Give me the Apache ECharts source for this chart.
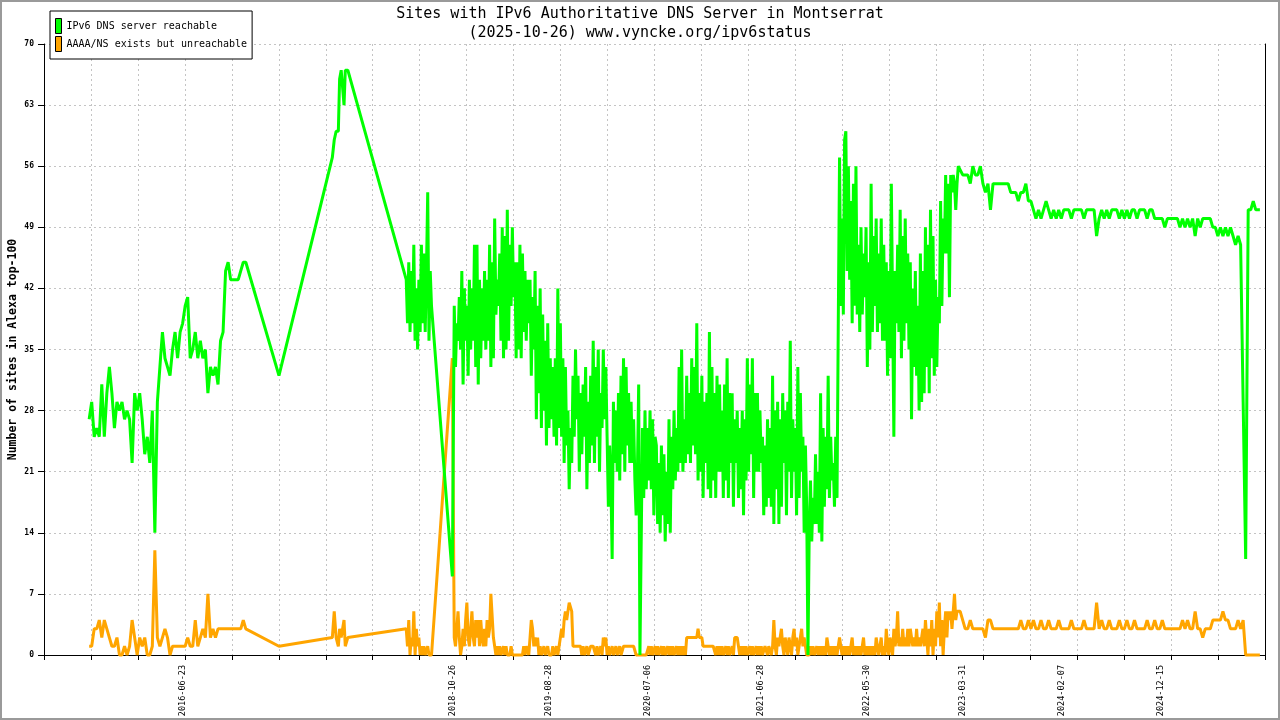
<!DOCTYPE html>
<html>
<head>
<meta charset="utf-8">
<script src="https://cdn.jsdelivr.net/npm/echarts@6/dist/echarts.min.js"></script>
<style>
html,body{margin:0;padding:0;background:#fff;}
#c{width:1280px;height:720px;}
#frame{position:absolute;left:0;top:0;width:1280px;height:720px;box-sizing:border-box;border:2px solid #9a9a9a;pointer-events:none;}
</style>
</head>
<body>
<div id="c"></div>
<div id="frame"></div>
<script>
// ---- texts ----
const titleLine1 = 'Sites with IPv6 Authoritative DNS Server in Montserrat';
const titleLine2 = '(2025-10-26) www.vyncke.org/ipv6status';
const yAxisTitle = 'Number of sites in Alexa top-100';
const seriesNames = ['IPv6 DNS server reachable', 'AAAA/NS exists but unreachable'];

// ---- x axis (time, in days) ----
const axisOrigin = '2015-04-12';     // left edge of the plot
const firstSample = '2015-09-02';    // date of dayOffsets[0]
const tickSpacingDays = 148.7;
const tickCount = 26;
const xLabelDates = ['2016-06-23','2018-10-26','2019-08-28','2020-07-06','2021-06-28',
                     '2022-05-30','2023-03-31','2024-02-07','2024-12-15'];

// ---- y axis ----
const yMin = 0, yMax = 70, yStep = 7;

// ---- data: days since firstSample ----
const dayOffsets = [
  0,8,16,24,32,40,48,56,
  64,72,80,88,96,104,112,120,
  128,136,144,152,160,168,176,184,
  192,200,208,216,224,232,240,248,
  256,264,272,280,288,296,304,312,
  320,328,336,344,352,360,368,376,
  384,392,400,408,416,424,432,440,
  448,456,464,472,480,488,496,
  601,770,776,782,789,793,798,807,811,819,
  1004,1008,1012,1016,1020,1024,1028,1032,1036,1040,
  1044,1048,1052,1056,1060,1064,1068,1072,1076,1080,1084,
  1150,
  1156,1160,1164,1168,1172,1176,1180,1184,1188,1192,
  1196,1200,1204,1208,1212,1216,1220,1224,1228,1232,
  1236,1240,1244,1248,1252,1256,1260,1264,1268,1272,
  1276,1280,1284,1288,1292,1296,1300,1304,1308,1312,
  1316,1320,1324,1328,1332,1336,1340,1344,1348,1352,
  1356,1360,1364,1368,1372,1376,1380,1384,1388,1392,
  1396,1400,1404,1408,1412,1416,1420,1424,1428,1432,
  1436,1440,1444,1448,1452,1456,1460,1464,1468,1472,
  1476,1480,1484,1488,1492,1496,1500,1504,1508,1512,
  1516,1520,1524,1528,1532,1536,1540,1544,1548,1552,
  1556,1560,1564,1568,1572,1576,1580,1584,1588,1592,
  1596,1600,1604,1608,1612,1616,1620,1624,1628,1632,
  1636,1640,1644,1648,1652,1656,1660,1664,1668,1672,
  1676,1680,1684,1688,1692,1696,1700,1704,1708,1712,
  1716,1720,1724,1728,1732,1736,1740,1744,1748,1752,
  1756,1760,1764,1768,1772,1776,1780,1784,1788,1792,
  1796,1800,1804,1808,1812,1816,1820,1824,1828,1832,
  1836,1840,1844,1848,1852,1856,1860,1864,1868,1872,
  1876,1880,1884,1888,1892,1896,1900,1904,1908,1912,
  1916,1920,1924,1928,1932,1936,1940,1944,1948,1952,
  1956,1960,1964,1968,1972,1976,1980,1984,1988,1992,
  1996,2000,2004,2008,2012,2016,2020,2024,2028,2032,
  2036,2040,2044,2048,2052,2056,2060,2064,2068,2072,
  2076,2080,2084,2088,2092,2096,2100,2104,2108,2112,
  2116,2120,2124,2128,2132,2136,2140,2144,2148,2152,
  2156,2160,2164,2168,2172,2176,2180,2184,2188,2192,
  2196,2200,2204,2208,2212,2216,2220,2224,2228,2232,
  2236,2240,2244,2248,2252,2256,2260,2264,2268,2272,
  2276,2280,2284,2288,2292,2296,2300,2304,2308,2312,
  2316,2320,2324,2328,2332,2336,2340,2344,2348,2352,
  2356,2360,2364,2368,2372,2376,2380,2384,2388,2392,
  2396,2400,2404,2408,2412,2416,2420,2424,2428,2432,
  2436,2440,2444,2448,2452,2456,2460,2464,2468,2472,
  2476,2480,2484,2488,2492,2496,2500,2504,2508,2512,
  2516,2520,2524,2528,2532,2536,2540,2544,2548,2552,
  2556,2560,2564,2568,2572,2576,2580,2584,2588,2592,
  2596,2600,2604,2608,2612,2616,2620,2624,2628,2632,
  2636,2640,2644,2648,2652,2656,2660,2664,2668,2672,
  2676,2680,2684,2688,2692,2696,2700,2704,2708,2712,
  2716,2720,2724,2728,2732,2736,2740,2744,2748,2752,
  2758,2766,2774,2782,2790,2798,2806,2814,
  2822,2830,2838,2846,2854,2862,2870,2878,
  2886,2894,2902,2910,2918,2926,2934,2942,
  2950,2958,2966,2974,2982,2990,2998,3006,
  3014,3022,3030,3038,3046,3054,3062,3070,
  3078,3086,3094,3102,3110,3118,3126,3134,
  3142,3150,3158,3166,3174,3182,3190,3198,
  3206,3214,3222,3230,3238,3246,3254,3262,
  3270,3278,3286,3294,3302,3310,3318,3326,
  3334,3342,3350,3358,3366,3374,3382,3390,
  3398,3406,3414,3422,3430,3438,3446,3454,
  3462,3470,3478,3486,3494,3502,3510,3518,
  3526,3534,3542,3550,3558,3566,3574,3582,
  3590,3598,3606,3614,3622,3630,3638,3646,
  3654,3662,3670,3678,3686,3694,3702,3707
];

const reachable = [
  27,29,25,26,25,31,25,30,
  33,30,26,29,28,29,27,28,
  27,22,30,28,30,27,23,25,
  22,28,14,29,33,37,34,33,
  32,35,37,34,37,38,40,41,
  34,35,37,34,36,34,35,30,
  33,32,33,31,36,37,44,45,
  43,43,43,43,44,45,45,
  32,57,59,60,60,66,67,63,67,67,
  43,38,45,37,44,38,47,36,42,35,
  43,37,47,38,46,37,44,53,36,44,40,
  9,
  40,33,38,36,41,35,44,31,42,36,
  40,32,43,35,42,36,47,33,47,31,
  43,34,42,36,44,35,43,36,47,33,
  45,34,50,39,43,40,46,36,49,34,
  48,35,51,36,47,40,49,41,45,34,
  45,35,47,34,46,37,44,36,43,38,
  43,32,41,35,44,27,40,30,42,26,
  39,28,36,24,38,26,34,27,33,25,
  34,24,42,26,38,25,34,22,33,24,
  28,19,26,22,32,25,35,27,32,21,
  30,23,31,25,33,19,29,22,32,24,
  36,22,33,25,35,21,30,26,35,27,
  33,25,17,24,20,11,29,22,28,21,
  30,20,32,23,34,21,33,24,30,22,
  29,22,27,20,16,21,31,0,13,26,
  18,28,19,26,20,28,19,27,16,25,
  24,15,22,14,24,16,23,13,21,15,
  27,14,25,19,28,20,26,21,33,22,
  35,21,27,22,32,23,30,22,34,24,
  33,23,38,20,30,21,32,18,29,22,
  30,19,37,18,33,20,30,18,32,21,
  31,21,28,18,31,20,34,18,30,22,
  30,17,27,22,28,18,26,19,28,16,
  27,20,34,21,31,23,34,18,30,21,
  30,21,28,22,25,16,24,17,27,18,
  26,17,32,15,28,19,29,15,27,17,
  30,22,28,16,29,21,36,18,27,21,
  26,16,33,18,30,21,25,14,24,17,
  0,14,20,13,18,15,23,15,21,14,
  30,13,26,17,25,19,32,18,25,20,
  22,17,25,18,38,57,40,50,39,59,
  60,44,56,43,52,38,54,40,56,39,
  47,37,49,39,46,41,49,33,45,35,
  54,37,48,40,50,37,46,38,50,36,
  47,36,45,32,44,34,54,40,25,44,
  38,47,37,51,34,48,36,50,38,46,
  35,45,27,42,33,44,32,40,28,46,
  29,44,30,49,33,47,30,51,34,48,
  32,43,33,41,38,52,40,50,46,55,
  46,54,41,55,53,55,54,51,54,56,
  56,55,55,55,54,56,55,55,
  56,54,53,54,51,54,54,54,
  54,54,54,54,53,53,53,52,
  53,53,54,52,52,51,50,51,
  50,51,52,51,50,51,50,51,
  50,51,51,51,50,51,51,51,
  51,50,51,51,51,51,48,50,
  51,50,51,50,51,51,51,50,
  51,50,51,50,51,51,50,51,
  51,51,50,51,51,50,50,50,
  50,49,50,50,50,50,50,49,
  50,49,50,49,50,48,50,49,
  50,50,50,50,49,49,48,49,
  48,49,48,49,48,47,48,47,
  29,11,51,51,52,51,51,51
];

const unreachable = [
  1,1,3,3,4,2,4,3,
  2,1,1,2,0,0,1,0,
  1,4,2,0,2,1,2,0,
  0,1,12,2,1,2,3,2,
  0,1,1,1,1,1,1,2,
  1,1,4,1,2,3,2,7,
  2,3,2,3,3,3,3,3,
  3,3,3,3,3,4,3,
  1,2,5,2,1,3,2,4,1,2,
  3,1,4,0,2,1,5,0,3,1,
  2,0,1,0,1,0,0,1,0,0,0,
  34,
  2,1,3,5,2,0,1,3,1,4,
  6,2,1,3,5,2,1,4,2,4,
  1,4,2,1,3,1,4,2,3,7,
  7,2,1,0,1,0,1,0,0,1,
  0,1,0,0,0,1,0,0,0,0,
  0,0,0,0,0,1,0,1,1,0,
  2,4,3,1,2,1,2,0,1,0,
  0,1,0,0,1,0,0,0,1,0,
  0,1,0,1,2,3,2,4,5,4,
  5,6,6,5,1,1,1,1,1,1,
  1,0,1,0,0,1,0,0,1,1,
  1,1,0,1,0,0,1,0,2,1,
  2,0,1,0,0,1,0,0,1,0,
  0,1,0,0,1,1,1,1,1,1,
  1,1,1,1,0,0,0,0,0,0,
  0,0,0,0,1,0,1,0,0,1,
  0,1,0,0,1,0,1,0,0,1,
  0,1,0,1,0,0,1,0,1,0,
  1,0,1,0,2,2,2,2,2,2,
  2,2,2,3,2,2,2,1,1,1,
  1,1,1,1,1,1,1,0,1,0,
  1,0,1,0,0,1,0,1,0,0,
  1,0,2,2,2,1,0,1,0,1,
  0,1,0,0,1,0,1,0,0,1,
  0,1,0,1,0,0,1,1,0,1,
  1,0,1,4,1,0,2,1,2,3,
  1,0,2,1,0,2,1,0,2,3,
  1,2,0,1,2,3,1,2,1,0,
  0,0,1,0,1,0,0,1,0,1,
  0,1,0,1,0,2,1,0,1,0,
  1,0,1,0,1,2,1,0,1,0,
  1,0,1,0,1,2,0,1,0,1,
  0,1,0,1,2,0,1,0,1,0,
  1,0,1,0,2,1,0,1,2,0,
  1,0,3,1,0,2,1,0,3,1,
  2,5,1,2,1,3,1,2,1,3,
  1,3,2,1,2,1,3,1,2,1,
  2,3,1,4,2,0,3,1,4,0,
  3,1,5,2,6,1,4,0,3,5,
  2,5,4,5,3,5,7,4,5,5,
  5,4,3,3,4,3,3,3,
  3,3,2,4,4,3,3,3,
  3,3,3,3,3,3,3,3,
  4,3,3,4,3,4,3,3,
  4,3,3,4,3,3,3,4,
  3,3,3,3,4,3,3,3,
  3,4,3,3,3,3,6,3,
  4,3,3,4,3,3,3,4,
  3,3,4,3,3,4,3,3,
  3,3,4,3,3,4,3,3,
  4,3,3,3,3,3,3,3,
  4,3,4,3,3,5,3,3,
  2,3,3,3,4,4,4,4,
  5,4,4,3,3,3,4,3,
  4,0,0,0,0,0,0,0
];

// ---- build ----
const DAY = 86400000;
const toDay = s => Date.parse(s + 'T00:00:00Z') / DAY;
const originDay = toDay(axisOrigin);
const shift = toDay(firstSample) - originDay;
const n = Math.min(dayOffsets.length, reachable.length, unreachable.length);
const greenData = [], orangeData = [];
for (let i = 0; i < n; i++) {
  greenData.push([shift + dayOffsets[i], reachable[i]]);
  orangeData.push([shift + dayOffsets[i], unreachable[i]]);
}
const labelValues = xLabelDates.map(s => toDay(s) - originDay);
const fmtDate = v => new Date(Math.round(originDay + v) * DAY).toISOString().slice(0, 10);

const MONO = "'DejaVu Sans Mono', 'Liberation Mono', monospace";
const GREEN = '#00ff00', ORANGE = '#ffa500';

const chart = echarts.init(document.getElementById('c'), null, {renderer: 'canvas'});
chart.setOption({
  animation: false,
  backgroundColor: '#ffffff',
  title: {
    text: titleLine1 + '\n' + titleLine2,
    left: 'center',
    top: 0,
    textStyle: {fontFamily: MONO, fontSize: 15, fontWeight: 'normal', color: '#000', lineHeight: 19}
  },
  legend: {
    orient: 'vertical',
    left: 50,
    top: 11,
    padding: [7, 5, 7, 5],
    itemGap: 2,
    itemWidth: 6,
    itemHeight: 15,
    icon: 'rect',
    backgroundColor: '#ffffff',
    borderColor: '#000000',
    borderWidth: 1,
    borderRadius: 0,
    itemStyle: {borderColor: '#000', borderWidth: 1},
    textStyle: {fontFamily: MONO, fontSize: 10, color: '#000'},
    data: seriesNames
  },
  grid: {left: 44, right: 15, top: 44, bottom: 65, containLabel: false, outerBoundsMode: 'none'},
  xAxis: {
    type: 'value',
    min: 0,
    max: tickSpacingDays * tickCount,
    interval: tickSpacingDays,
    axisLine: {show: true, onZero: false, lineStyle: {color: '#000', width: 1}},
    axisTick: {show: true, length: 5, lineStyle: {color: '#000'}},
    splitLine: {show: true, lineStyle: {color: '#c4c4c4', width: 1, type: [2, 3]}},
    axisLabel: {
      customValues: labelValues,
      rotate: 90,
      margin: 10,
      fontFamily: MONO,
      fontSize: 8.5,
      color: '#000',
      formatter: v => fmtDate(v)
    }
  },
  yAxis: [{
    type: 'value',
    min: yMin,
    max: yMax,
    interval: yStep,
    name: yAxisTitle,
    nameLocation: 'middle',
    nameRotate: 90,
    nameGap: 25,
    nameMoveOverlap: false,
    nameTextStyle: {fontFamily: MONO, fontSize: 11.5, fontWeight: 'bold', color: '#000'},
    axisLine: {show: true, lineStyle: {color: '#000', width: 1}},
    axisTick: {show: true, length: 6, lineStyle: {color: '#000'}},
    splitLine: {show: true, lineStyle: {color: '#c4c4c4', width: 1, type: [2, 3]}},
    axisLabel: {margin: 10, fontFamily: MONO, fontSize: 8, fontWeight: 'bold', color: '#000'}
  }, {
    type: 'value',
    position: 'right',
    min: yMin,
    max: yMax,
    interval: yStep,
    axisLine: {show: true, lineStyle: {color: '#000', width: 1}},
    axisTick: {show: false},
    axisLabel: {show: false},
    splitLine: {show: false}
  }],
  series: [{
    name: seriesNames[1],
    type: 'line',
    data: orangeData,
    yAxisIndex: 0,
    showSymbol: false,
    symbol: 'none',
    clip: false,
    silent: true,
    color: ORANGE,
    lineStyle: {color: ORANGE, width: 3, join: 'bevel', cap: 'butt'},
    itemStyle: {color: ORANGE}
  }, {
    name: seriesNames[0],
    type: 'line',
    data: greenData,
    yAxisIndex: 0,
    showSymbol: false,
    symbol: 'none',
    clip: false,
    silent: true,
    color: GREEN,
    lineStyle: {color: GREEN, width: 3, join: 'bevel', cap: 'butt'},
    itemStyle: {color: GREEN}
  }]
});
</script>
</body>
</html>
